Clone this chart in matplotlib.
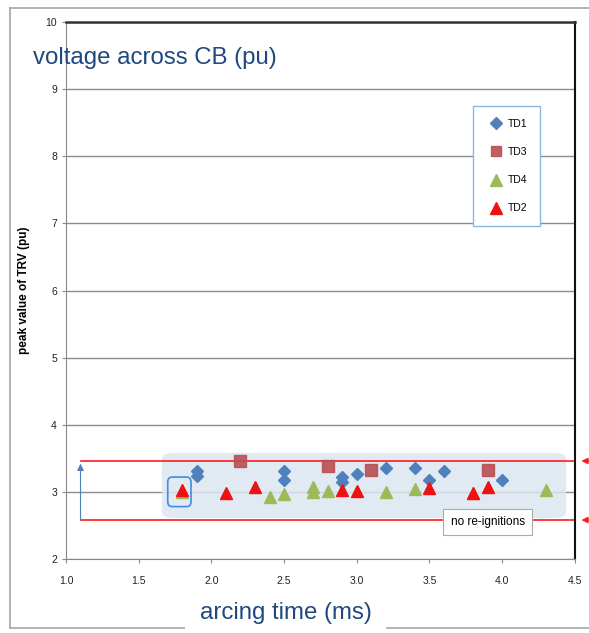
import matplotlib.pyplot as plt
from matplotlib.patches import FancyBboxPatch
from matplotlib.lines import Line2D

plt.rcParams['font.family'] = ['Liberation Sans', 'DejaVu Sans']

# data
td1_x = [1.9, 1.9, 2.5, 2.5, 2.9, 2.9, 3.0, 3.2, 3.4, 3.5, 3.6, 4.0]
td1_y = [3.31, 3.23, 3.31, 3.17, 3.22, 3.14, 3.27, 3.36, 3.35, 3.18, 3.31, 3.18]
td3_x = [2.2, 2.8, 3.1, 3.9]
td3_y = [3.46, 3.38, 3.32, 3.32]
td4_x = [1.8, 2.4, 2.5, 2.7, 2.7, 2.8, 3.2, 3.4, 3.8, 4.3]
td4_y = [3.00, 2.93, 2.97, 3.07, 3.00, 3.01, 3.00, 3.04, 2.98, 3.02]
td2_x = [1.8, 2.1, 2.3, 2.9, 3.0, 3.5, 3.8, 3.9]
td2_y = [3.03, 2.99, 3.07, 3.03, 3.01, 3.06, 2.98, 3.07]

upper_limit = 3.46
lower_limit = 2.58
x_ticks = [1.0, 1.5, 2.0, 2.5, 3.0, 3.5, 4.0, 4.5]
y_ticks = [2, 3, 4, 5, 6, 7, 8, 9, 10]

navy = '#1f497d'

fig = plt.figure(figsize=(5.89, 6.33), dpi=100)
ax = fig.add_axes([0.112, 0.117, 0.864, 0.848])
ax.set_xlim(1.0, 4.5)
ax.set_ylim(2, 10)
ax.set_xticks(x_ticks)
ax.set_xticklabels(['%.1f' % v for v in x_ticks])
ax.set_yticks(y_ticks)
ax.tick_params(labelsize=7.5, colors='#222222', length=3, width=0.8)
ax.tick_params(axis='both', color='#888888')
ax.tick_params(axis='x', pad=9)
ax.grid(axis='y', color='#8c8c8c', lw=1)
ax.set_axisbelow(True)
for s in ['left', 'bottom']:
    ax.spines[s].set_color('#888888')
ax.spines['right'].set_color('#111111')
ax.spines['right'].set_linewidth(1.5)
ax.spines['top'].set_color('#333333')
ax.spines['top'].set_linewidth(1.8)

# shaded region
ax.add_patch(FancyBboxPatch((1.66, 2.61), 2.78, 0.97,
                            boxstyle='round,pad=0,rounding_size=0.09',
                            mutation_aspect=0.9,
                            fc='#dce6f1', ec='none', alpha=0.85, zorder=1))

# limit lines
ax.plot([1.1, 4.5], [upper_limit, upper_limit], color='#ff1a1a', lw=1.2, zorder=2)
ax.plot([1.1, 4.5], [lower_limit, lower_limit], color='#ff1a1a', lw=1.2, zorder=2)
for yv in [upper_limit, lower_limit]:
    ax.annotate('', xy=(4.545, yv), xytext=(4.7, yv), annotation_clip=False,
                arrowprops=dict(arrowstyle='-|>', color='#ff1a1a', lw=1,
                                mutation_scale=9, shrinkA=0, shrinkB=0))
ax.annotate('', xy=(1.1, 3.42), xytext=(1.1, lower_limit),
            arrowprops=dict(arrowstyle='-|>', color='#4f81bd', lw=0.8,
                            mutation_scale=10, shrinkA=0, shrinkB=0))

ax.plot(td1_x, td1_y, 'D', color='#4f81bd', ms=6.5, ls='none', label='TD1', zorder=4)
ax.plot(td3_x, td3_y, 's', color='#b84f53', ms=8, ls='none', label='TD3', alpha=0.9, zorder=4)
ax.plot(td4_x, td4_y, '^', color='#9bbb59', ms=9, ls='none', label='TD4', zorder=4)
ax.plot(td2_x, td2_y, '^', color='#ee1111', ms=9, ls='none', label='TD2', zorder=5)

# box around 1.8 point
ax.add_patch(FancyBboxPatch((1.7, 2.78), 0.16, 0.44,
                            boxstyle='round,pad=0,rounding_size=0.03',
                            mutation_aspect=2.5,
                            fc='none', ec='#3a8ee6', lw=1.2, zorder=6))

ax.text(3.9, 2.55, 'no re-ignitions', fontsize=8.5, ha='center', va='center',
        zorder=7, bbox=dict(boxstyle='square,pad=0.6', fc='white', ec='#aaaaaa', lw=0.8))

leg = ax.legend(loc='upper left', bbox_to_anchor=(0.79, 0.853), fontsize=7.5,
                labelspacing=1.75, handlelength=2.0, handletextpad=0.1,
                borderpad=1.2, fancybox=False, edgecolor='#8eb4e3',
                framealpha=1, markerscale=0.9)
leg.get_frame().set_linewidth(1.0)

ax.set_ylabel('peak value of TRV (pu)', fontsize=8.5, fontweight='bold', labelpad=11)

fig.text(0.056, 0.908, 'voltage across CB (pu)', fontsize=17.3, color=navy, va='center')

# outer frame
frame_c = '#a6a6a6'
fig.add_artist(Line2D([0.017, 1.0], [0.987, 0.987], color=frame_c, lw=1.2))
fig.add_artist(Line2D([0.017, 0.017], [0.008, 0.987], color=frame_c, lw=1.2))
fig.add_artist(Line2D([0.017, 1.0], [0.008, 0.008], color=frame_c, lw=1.2))
fig.text(0.485, 0.031, 'arcing time (ms)', fontsize=17.3, color=navy, ha='center', va='center',
         bbox=dict(boxstyle='square,pad=0.6', fc='white', ec='none'))

fig.savefig('out.png', dpi=100)
